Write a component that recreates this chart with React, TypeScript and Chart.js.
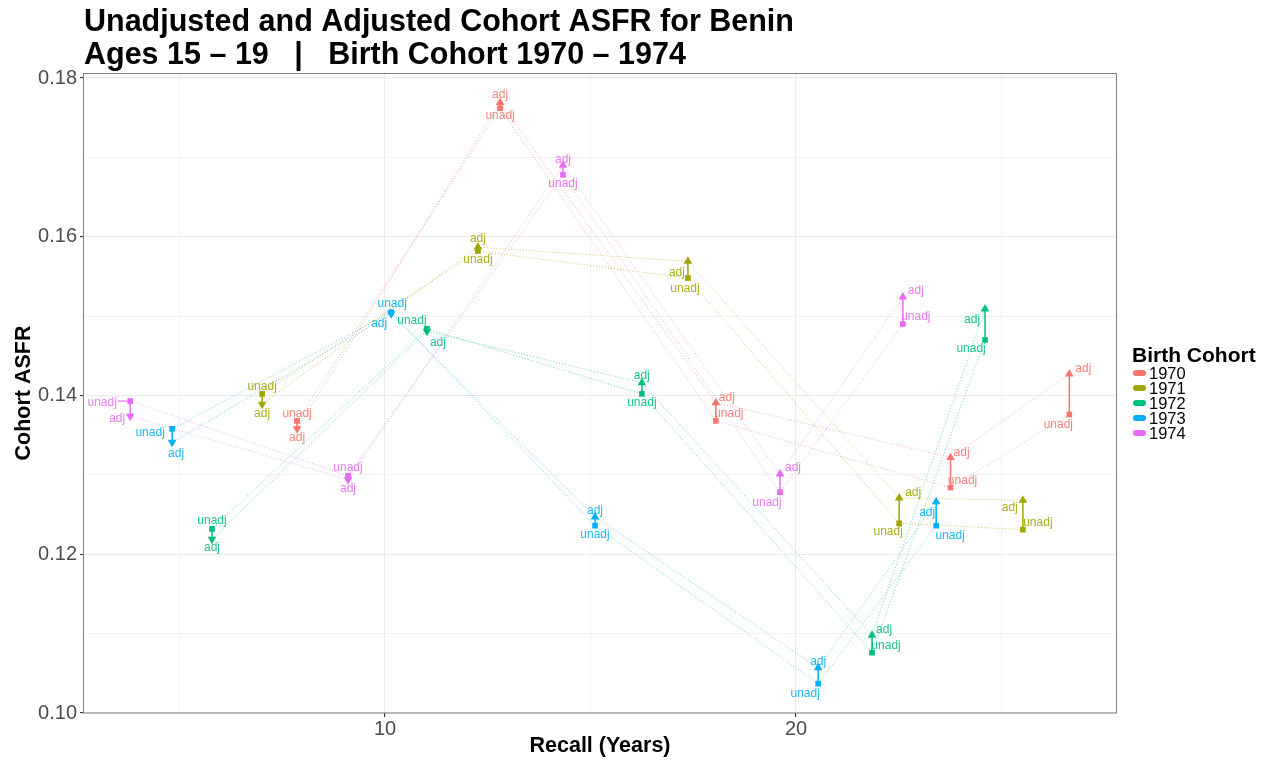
import React, { useEffect, useRef } from "react";
import { Chart, registerables } from "chart.js";

Chart.register(...registerables);

// ---------- data ----------
const COHORTS = ["1970", "1971", "1972", "1973", "1974"];
const COLORS = ["#F8766D", "#A3A500", "#00BF7D", "#00B0F6", "#E76BF3"];

const RECALL_1970 = [7.86, 12.8, 18.05, 23.76, 26.65];
const UNADJ_1970 = [0.1368, 0.1762, 0.1368, 0.1284, 0.1376];
const ADJ_1970 = [0.1358, 0.1769, 0.1391, 0.1322, 0.1427];

const RECALL_1971 = [7.01, 12.26, 17.37, 22.51, 25.52];
const UNADJ_1971 = [0.1402, 0.1582, 0.1548, 0.1239, 0.1231];
const ADJ_1971 = [0.1389, 0.1587, 0.1569, 0.1271, 0.1268];

const RECALL_1972 = [5.79, 11.02, 16.25, 21.85, 24.6];
const UNADJ_1972 = [0.1232, 0.1484, 0.1402, 0.1076, 0.147];
const ADJ_1972 = [0.1219, 0.1481, 0.1416, 0.1098, 0.1509];

const RECALL_1973 = [4.82, 10.15, 15.11, 20.54, 23.41];
const UNADJ_1973 = [0.1358, 0.1505, 0.1236, 0.1037, 0.1236];
const ADJ_1973 = [0.1341, 0.1503, 0.1247, 0.1057, 0.1266];

const RECALL_1974 = [3.8, 9.1, 14.33, 19.61, 22.6];
const UNADJ_1974 = [0.1393, 0.1299, 0.1678, 0.1278, 0.149];
const ADJ_1974 = [0.1374, 0.1294, 0.169, 0.1301, 0.1524];

const RECALL = [RECALL_1970, RECALL_1971, RECALL_1972, RECALL_1973, RECALL_1974];
const UNADJ = [UNADJ_1970, UNADJ_1971, UNADJ_1972, UNADJ_1973, UNADJ_1974];
const ADJ = [ADJ_1970, ADJ_1971, ADJ_1972, ADJ_1973, ADJ_1974];

const X_TICKS = [5, 10, 15, 20, 25];
const X_LABELED = [10, 20];
const Y_TICKS = [0.1, 0.11, 0.12, 0.13, 0.14, 0.15, 0.16, 0.17, 0.18];
const Y_LABELED = [0.1, 0.12, 0.14, 0.16, 0.18];

const TITLE_1 = "Unadjusted and Adjusted Cohort ASFR for Benin";
const TITLE_2 = "Ages 15 \u2013 19   |   Birth Cohort 1970 \u2013 1974";
const X_TITLE = "Recall (Years)";
const Y_TITLE = "Cohort ASFR";
const LEGEND_TITLE = "Birth Cohort";

// ---------- label placement (pixel offsets from each marker, styling only) ----------
const ADJ_LABEL_OFFSET = [
  [[0, 9], [0, -8], [11, -5], [11, -5], [14, -5]],
  [[0, 9], [0, -8], [-11, 11], [14, -5], [-13, 7]],
  [[0, 9], [11, 11], [0, -7], [12, -6], [-13, 11]],
  [[4, 11], [-12, 10], [0, -6], [0, -6], [-9, 11]],
  [[-13, 3], [0, 9], [0, -6], [13, -6], [13, -6]],
];
const UNADJ_LABEL_OFFSET = [
  [[0, -7], [0, 8], [13, -7], [12, -7], [-11, 10]],
  [[0, -7], [0, 9], [-3, 11], [-11, 8], [15, -7]],
  [[0, -8], [-15, -8], [0, 9], [14, -7], [-14, 9]],
  [[-22, 4], [1, -8], [0, 9], [-13, 10], [14, 10]],
  [[-28, 2], [0, -8], [0, 9], [-13, 10], [13, -7]],
];

const FONT = "'Liberation Sans', Arial, Helvetica, sans-serif";

function rgba(hex: string, a: number) {
  const n = parseInt(hex.slice(1), 16);
  return `rgba(${(n >> 16) & 255},${(n >> 8) & 255},${n & 255},${a})`;
}

const isMajorY = (v: number) => Y_LABELED.some((t) => Math.abs(t - v) < 1e-6);
const isMajorX = (v: number) => X_LABELED.some((t) => Math.abs(t - v) < 1e-6);

const overlayPlugin = {
  id: "overlay",
  afterDatasetsDraw(chart: any) {
    const ctx = chart.ctx;
    const xs = chart.scales.x;
    const ys = chart.scales.y;
    ctx.save();
    ctx.font = `12px ${FONT}`;
    ctx.textAlign = "center";
    ctx.textBaseline = "middle";
    COHORTS.forEach((_c, ci) => {
      RECALL[ci].forEach((r, i) => {
        const px = xs.getPixelForValue(r);
        const pa = ys.getPixelForValue(ADJ[ci][i]);
        const pu = ys.getPixelForValue(UNADJ[ci][i]);
        ctx.fillStyle = rgba(COLORS[ci], 0.9);
        const [ax, ay] = ADJ_LABEL_OFFSET[ci][i];
        ctx.fillText("adj", px + ax, pa + ay);
        const [ux, uy] = UNADJ_LABEL_OFFSET[ci][i];
        ctx.fillText("unadj", px + ux, pu + uy);
        if (Math.abs(ux) > 24) {
          const w = ctx.measureText("unadj").width;
          const sx = px + ux + (ux < 0 ? w / 2 + 1 : -w / 2 - 1);
          ctx.strokeStyle = COLORS[ci];
          ctx.lineWidth = 1.2;
          ctx.beginPath();
          ctx.moveTo(sx, pu);
          ctx.lineTo(px + (ux < 0 ? -3 : 3), pu);
          ctx.stroke();
        }
      });
    });
    // panel border
    const { left, right, top, bottom } = chart.chartArea;
    ctx.strokeStyle = "#7f7f7f";
    ctx.lineWidth = 1;
    ctx.strokeRect(Math.round(left) - 0.5, Math.round(top) + 0.5, Math.round(right - left) + 1, Math.round(bottom - top) - 0.5);
    ctx.restore();
  },
  afterDraw(chart: any) {
    const ctx = chart.ctx;
    const { left, right, top, bottom } = chart.chartArea;
    ctx.save();
    ctx.fillStyle = "#000";
    // title
    ctx.font = `bold 30.5px ${FONT}`;
    ctx.textAlign = "left";
    ctx.textBaseline = "alphabetic";
    ctx.fillText(TITLE_1, left, 31);
    ctx.fillText(TITLE_2, left, 64);
    // axis titles
    ctx.font = `bold 21.5px ${FONT}`;
    ctx.textAlign = "center";
    ctx.textBaseline = "middle";
    ctx.fillText(X_TITLE, (left + right) / 2, 746);
    ctx.save();
    ctx.translate(24, (top + bottom) / 2);
    ctx.rotate(-Math.PI / 2);
    ctx.fillText(Y_TITLE, 0, 0);
    ctx.restore();
    // legend
    ctx.textAlign = "left";
    ctx.textBaseline = "alphabetic";
    ctx.font = `bold 21px ${FONT}`;
    ctx.fillText(LEGEND_TITLE, 1132, 362);
    ctx.font = `16.5px ${FONT}`;
    ctx.textBaseline = "middle";
    COHORTS.forEach((c, i) => {
      const cy = 373 + 15 * i;
      ctx.fillStyle = COLORS[i];
      ctx.beginPath();
      if (ctx.roundRect) ctx.roundRect(1133, cy - 3, 13, 6, 3);
      else ctx.rect(1133, cy - 3, 13, 6);
      ctx.fill();
      ctx.fillStyle = "#000";
      ctx.fillText(c, 1149, cy + 1);
    });
    ctx.restore();
  },
};

export default function App() {
  const canvasRef = useRef<HTMLCanvasElement | null>(null);

  useEffect(() => {
    const canvas = canvasRef.current;
    if (!canvas) return;

    const datasets: any[] = [];
    COHORTS.forEach((c, ci) => {
      const col = COLORS[ci];
      const rec = RECALL[ci];
      // dotted connecting lines
      datasets.push({
        label: `${c} unadj line`,
        data: rec.map((r, i) => ({ x: r, y: UNADJ[ci][i] })),
        showLine: true,
        borderColor: rgba(col, 0.6),
        borderWidth: 1,
        borderDash: [1, 2],
        pointRadius: 0,
        order: 3,
      });
      datasets.push({
        label: `${c} adj line`,
        data: rec.map((r, i) => ({ x: r, y: ADJ[ci][i] })),
        showLine: true,
        borderColor: rgba(col, 0.6),
        borderWidth: 1,
        borderDash: [1, 2],
        pointRadius: 0,
        order: 3,
      });
      // arrow shafts
      const seg: any[] = [];
      rec.forEach((r, i) => {
        seg.push({ x: r, y: UNADJ[ci][i] });
        seg.push({ x: r, y: ADJ[ci][i] });
        seg.push({ x: r, y: null });
      });
      datasets.push({
        label: `${c} arrows`,
        data: seg,
        showLine: true,
        spanGaps: false,
        borderColor: col,
        borderWidth: 1.5,
        pointRadius: 0,
        order: 2,
      });
      // unadjusted squares
      datasets.push({
        label: `${c} unadj`,
        data: rec.map((r, i) => ({ x: r, y: UNADJ[ci][i] })),
        pointStyle: "rect",
        pointRadius: 4,
        backgroundColor: col,
        borderColor: col,
        borderWidth: 0,
        order: 1,
      });
      // adjusted triangles
      datasets.push({
        label: `${c} adj`,
        data: rec.map((r, i) => ({ x: r, y: ADJ[ci][i] })),
        pointStyle: "triangle",
        pointRadius: 5,
        pointRotation: rec.map((_r, i) => (ADJ[ci][i] < UNADJ[ci][i] ? 180 : 0)),
        backgroundColor: col,
        borderColor: col,
        borderWidth: 0,
        order: 0,
      });
    });

    const chart = new Chart(canvas, {
      type: "scatter",
      data: { datasets },
      plugins: [overlayPlugin],
      options: {
        animation: false,
        responsive: false,
        maintainAspectRatio: false,
        layout: { padding: { left: 0, right: 157, top: 73, bottom: 0 } },
        plugins: {
          legend: { display: false },
          tooltip: { enabled: false },
          title: { display: false },
        },
        scales: {
          x: {
            type: "linear",
            min: 2.676,
            max: 27.786,
            afterFit: (s: any) => {
              s.height = 48;
            },
            afterBuildTicks: (s: any) => {
              s.ticks = X_TICKS.map((v) => ({ value: v }));
            },
            border: { display: false },
            grid: {
              color: "#EBEBEB",
              lineWidth: (c: any) => (c.tick && isMajorX(c.tick.value) ? 1.1 : 0.6),
              tickColor: (c: any) => (c.tick && isMajorX(c.tick.value) ? "#333333" : "rgba(0,0,0,0)"),
              tickLength: 4,
              drawTicks: true,
            },
            ticks: {
              autoSkip: false,
              maxRotation: 0,
              padding: 0,
              color: "#4D4D4D",
              font: { family: FONT, size: 20 },
              callback: (v: any) => (isMajorX(Number(v)) ? String(v) : ""),
            },
          },
          y: {
            type: "linear",
            min: 0.1,
            max: 0.18063,
            afterFit: (s: any) => {
              s.width = 84;
            },
            afterBuildTicks: (s: any) => {
              s.ticks = Y_TICKS.map((v) => ({ value: v }));
            },
            border: { display: false },
            grid: {
              color: "#EBEBEB",
              lineWidth: (c: any) => (c.tick && isMajorY(c.tick.value) ? 1.1 : 0.6),
              tickColor: (c: any) => (c.tick && isMajorY(c.tick.value) ? "#333333" : "rgba(0,0,0,0)"),
              tickLength: 4,
              drawTicks: true,
            },
            ticks: {
              autoSkip: false,
              padding: 3,
              color: "#4D4D4D",
              font: { family: FONT, size: 20 },
              callback: (v: any) => (isMajorY(Number(v)) ? Number(v).toFixed(2) : ""),
            },
          },
        },
      },
    } as any);

    return () => {
      chart.destroy();
    };
  }, []);

  return (
    <div style={{ position: "fixed", left: 0, top: 0, width: 1273, height: 761, background: "#fff" }}>
      <canvas ref={canvasRef} width={1273} height={761} style={{ display: "block", width: 1273, height: 761 }} />
    </div>
  );
}
